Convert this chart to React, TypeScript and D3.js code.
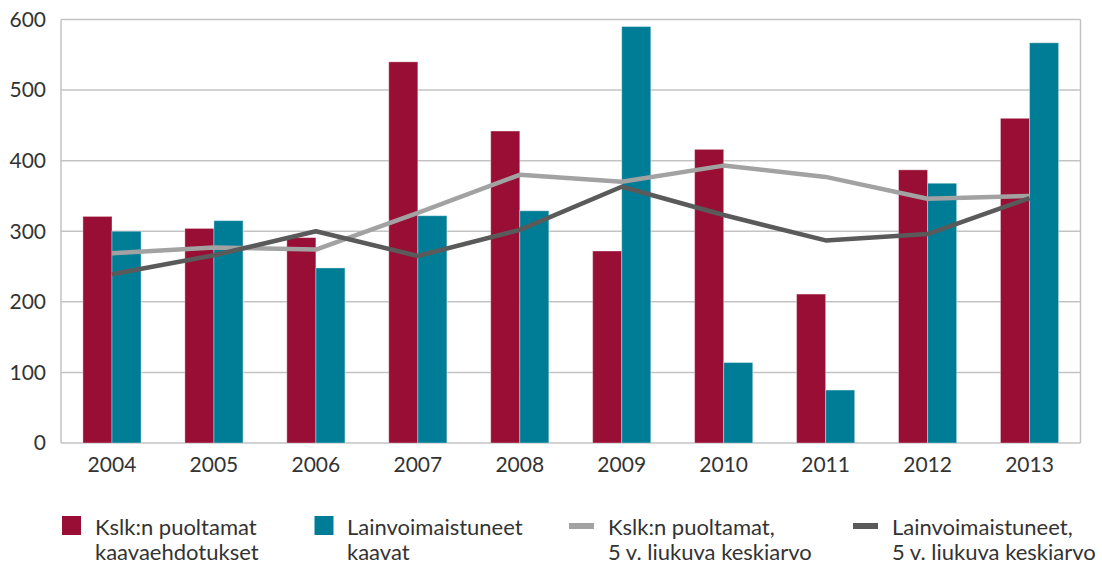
import React from "react";
import * as d3 from "d3";

const years = ["2004", "2005", "2006", "2007", "2008", "2009", "2010", "2011", "2012", "2013"];
const kslk = [321, 304, 291, 540, 442, 272, 416, 211, 387, 460];
const lainvoima = [300, 315, 248, 322, 329, 590, 114, 75, 368, 567];
const kslkAvg = [269, 277, 274, 326, 380, 370, 393, 377, 346, 350];
const lainvoimaAvg = [239, 266, 300, 265, 302, 363, 323, 287, 296, 347];
const yTicks = [0, 100, 200, 300, 400, 500, 600];

const W = 1102;
const H = 564;
const L = 61;
const R = 1080.5;
const T = 19.5;
const B = 443;

const RED = "#990e35";
const TEAL = "#007d96";
const LGRAY = "#a2a2a2";
const DGRAY = "#5a5a5a";
const GRID = "#c3c3c3";
const TXT = "#333333";
const FONT = "Lato, 'Open Sans', sans-serif";

export default function App() {
  const x = d3.scaleBand<string>().domain(years).range([L, R]).paddingInner(0.43).paddingOuter(0.215);
  const sub = d3.scaleBand<string>().domain(["a", "b"]).range([0, x.bandwidth()]);
  const y = d3.scaleLinear().domain([0, 600]).range([B, T]);
  const cx = (i: number) => (x(years[i]) as number) + x.bandwidth() / 2;

  const line = d3
    .line<number>()
    .x((_, i) => cx(i))
    .y((d) => y(d));

  return (
    <div style={{ position: "absolute", left: 0, top: 0 }}>
      <svg width={W} height={H} style={{ display: "block" }} fontFamily={FONT}>
        <rect x={0} y={0} width={W} height={H} fill="#fff" />
        {yTicks.map((t) => (
          <g key={t}>
            <line x1={L} x2={R} y1={y(t)} y2={y(t)} stroke={GRID} strokeWidth={1.5} />
            <text x={46} y={y(t)} dy="0.35em" textAnchor="end" fontSize={21} fill={TXT}>
              {t}
            </text>
          </g>
        ))}
        <line x1={L} x2={L} y1={T} y2={B} stroke={GRID} strokeWidth={1.5} />
        <line x1={R} x2={R} y1={T} y2={B} stroke={GRID} strokeWidth={1.5} />
        {years.map((yr, i) => (
          <g key={yr}>
            <rect
              x={(x(yr) as number) + (sub("a") as number)}
              y={y(kslk[i])}
              width={sub.bandwidth()}
              height={B - y(kslk[i])}
              fill={RED}
              stroke="#fff"
              strokeOpacity={0.35}
              strokeWidth={1}
            />
            <rect
              x={(x(yr) as number) + (sub("b") as number)}
              y={y(lainvoima[i])}
              width={sub.bandwidth()}
              height={B - y(lainvoima[i])}
              fill={TEAL}
              stroke="#fff"
              strokeOpacity={0.35}
              strokeWidth={1}
            />
            <text x={cx(i)} y={472} textAnchor="middle" fontSize={21} fill={TXT}>
              {yr}
            </text>
          </g>
        ))}
        <path d={line(kslkAvg) || ""} fill="none" stroke={LGRAY} strokeWidth={4.5} strokeLinejoin="round" />
        <path d={line(lainvoimaAvg) || ""} fill="none" stroke={DGRAY} strokeWidth={4.5} strokeLinejoin="round" />

        <g fontSize={22} fill={TXT}>
          <rect x={62} y={516} width={19} height={19} fill={RED} />
          <text x={95} y={535}>Kslk:n puoltamat</text>
          <text x={95} y={560}>kaavaehdotukset</text>

          <rect x={314.5} y={516} width={19} height={19} fill={TEAL} />
          <text x={347} y={535}>Lainvoimaistuneet</text>
          <text x={347} y={560}>kaavat</text>

          <rect x={569} y={523} width={25} height={6} fill={LGRAY} />
          <text x={608} y={535}>Kslk:n puoltamat,</text>
          <text x={608} y={560}>5 v. liukuva keskiarvo</text>

          <rect x={853} y={523} width={25} height={6} fill={DGRAY} />
          <text x={892} y={535}>Lainvoimaistuneet,</text>
          <text x={892} y={560}>5 v. liukuva keskiarvo</text>
        </g>
      </svg>
    </div>
  );
}
